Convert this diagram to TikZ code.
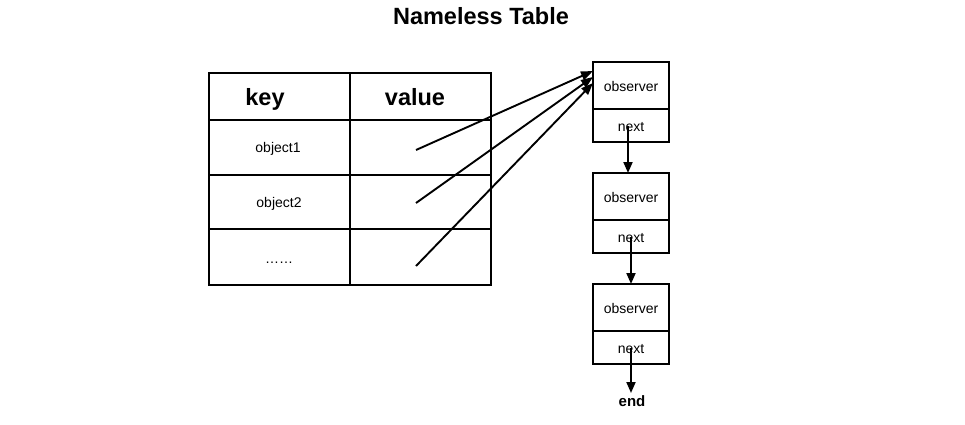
\documentclass[tikz,border=0pt]{standalone}
\usepackage{fontspec}
\setmainfont{Liberation Sans}
\usetikzlibrary{arrows.meta}
\begin{document}
\begin{tikzpicture}[x=1pt,y=-1pt,
  cell/.style={draw,line width=1.9pt,rectangle,inner sep=0pt,outer sep=0pt,anchor=north west},
  hdr/.style={font=\fontsize{23.5}{26}\selectfont\bfseries,anchor=base},
  txt/.style={font=\fontsize{14}{16}\selectfont,anchor=base},
  arr/.style={line width=1.9pt,-{Triangle[length=11pt,width=9pt]}},
  ptr/.style={line width=1.9pt,-{Triangle[length=12pt,width=9pt]}}
]
\useasboundingbox (0,0) rectangle (965,424);
\node[font=\fontsize{23.5}{26}\selectfont\bfseries,anchor=base] (title) at (481,24) {Nameless Table};
% table cells
\node[cell,minimum width=141pt,minimum height=47pt] (k0) at (209,73) {};
\node[cell,minimum width=141pt,minimum height=47pt] (v0) at (350,73) {};
\node[cell,minimum width=141pt,minimum height=55pt] (k1) at (209,120) {};
\node[cell,minimum width=141pt,minimum height=55pt] (v1) at (350,120) {};
\node[cell,minimum width=141pt,minimum height=54pt] (k2) at (209,175) {};
\node[cell,minimum width=141pt,minimum height=54pt] (v2) at (350,175) {};
\node[cell,minimum width=141pt,minimum height=56pt] (k3) at (209,229) {};
\node[cell,minimum width=141pt,minimum height=56pt] (v3) at (350,229) {};
\node[hdr] (keyt) at (265,105) {key};
\node[hdr] (valt) at (415,105) {value};
\node[txt] (o1) at (278,152) {object1};
\node[txt] (o2) at (279,207) {object2};
\node[txt] (o3) at (279,263) {……};
% observer boxes
\foreach \i/\y in {1/62,2/173,3/284}{
  \node[cell,minimum width=76pt,minimum height=47pt] (ob\i) at (593,\y) {};
  \node[cell,minimum width=76pt,minimum height=33pt] (nx\i) at (593,\y+47) {};
  \node[txt] (obt\i) at (631,\y+29) {observer};
  \node[txt] (nxt\i) at (631,\y+69) {next};
}
\node[font=\fontsize{15}{17}\selectfont\bfseries,anchor=base] (endt) at (632,406) {end};
% pointers from value cells
\coordinate (s1) at (416,150);
\coordinate (s2) at (416,203);
\coordinate (s3) at (416,266);
\coordinate (t1) at (593,71);
\coordinate (t2) at (593,77);
\coordinate (t3) at (593,83);
\draw[ptr] (s1) -- (t1);
\draw[ptr] (s2) -- (t2);
\draw[ptr] (s3) -- (t3);
% next arrows
\draw[arr] (628,126) -- (ob2.north west -| 628,0);
\draw[arr] (631,237) -- (ob3.north west -| 631,0);
\draw[arr] (631,348) -- (631,393);
\end{tikzpicture}
\end{document}
